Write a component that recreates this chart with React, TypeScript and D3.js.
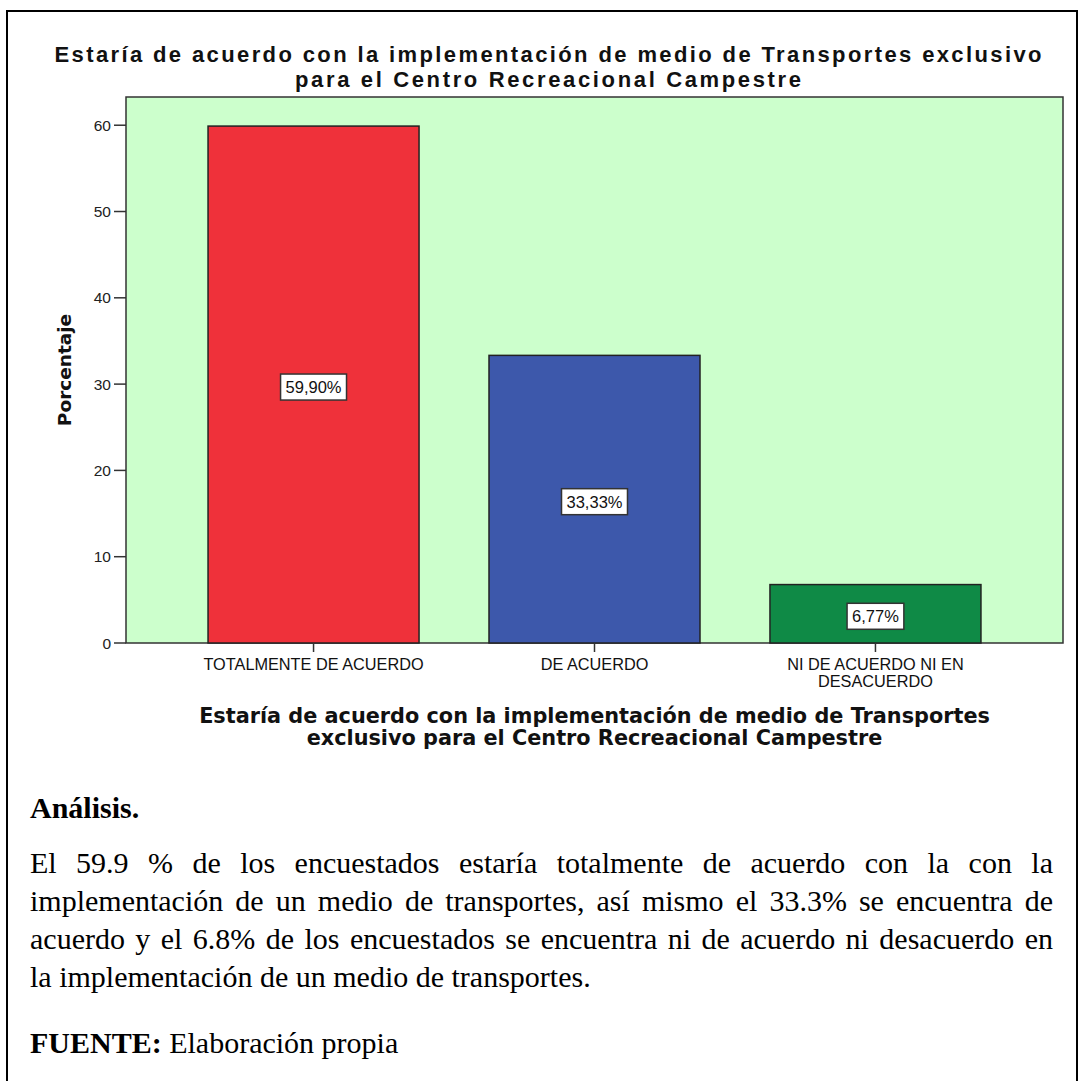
import React, { useEffect, useMemo } from 'react';
import * as d3 from 'd3';

// ---------- data ----------
const categoryLabels: string[][] = [
  ['TOTALMENTE DE ACUERDO'],
  ['DE ACUERDO'],
  ['NI DE ACUERDO NI EN', 'DESACUERDO'],
];
const values: number[] = [59.9, 33.33, 6.77];
const valueLabels: string[] = ['59,90%', '33,33%', '6,77%'];
const barColors: string[] = ['#EF313A', '#3D58AB', '#0F8A46'];
const yTicks: number[] = [0, 10, 20, 30, 40, 50, 60];

const titleLines: string[] = [
  'Estaría de acuerdo con la implementación de medio de Transportes exclusivo',
  'para el Centro Recreacional Campestre',
];
const xTitleLines: string[] = [
  'Estaría de acuerdo con la implementación de medio de Transportes',
  'exclusivo para el Centro Recreacional Campestre',
];
const yTitle = 'Porcentaje';

const analysisHeading = 'Análisis.';
const paragraphLines: string[] = [
  'El 59.9 % de los encuestados estaría totalmente de acuerdo con la con la',
  'implementación de un medio de transportes, así mismo el 33.3% se encuentra de',
  'acuerdo y el 6.8% de los encuestados se encuentra ni de acuerdo ni desacuerdo en',
  'la implementación de un medio de transportes.',
];
const sourceLabel = 'FUENTE:';
const sourceText = ' Elaboración propia';

// ---------- layout ----------
const W = 1080;
const H = 1081;
const plot = { left: 126, right: 1063, top: 97, bottom: 643 };
const yMax = 63.27;

const SANS = "'Liberation Sans', Arial, sans-serif";
const WIDE = "'DejaVu Sans', Verdana, sans-serif";
const SERIF = "'Liberation Serif', 'Times New Roman', serif";

let _ctx: CanvasRenderingContext2D | null = null;
function measure(text: string, font: string): number {
  if (!_ctx) {
    const c = document.createElement('canvas');
    _ctx = c.getContext('2d');
  }
  if (!_ctx) return text.length * 10;
  _ctx.font = font;
  return _ctx.measureText(text).width;
}

export default function App() {
  useEffect(() => {
    document.body.style.margin = '0';
  }, []);

  const x = d3
    .scaleBand<number>()
    .domain(values.map((_, i) => i))
    .range([plot.left, plot.right])
    .paddingInner(0.249)
    .paddingOuter(0.292);
  const y = d3.scaleLinear().domain([0, yMax]).range([plot.bottom, plot.top]);

  const textX0 = 30;
  const textX1 = 1053;
  const paraSize = 30;
  const paraFont = `${paraSize}px 'Liberation Serif'`;
  const paraBaselines = [873, 911, 949, 987];

  const justified = useMemo(() => {
    return paragraphLines.map((line, li) => {
      const words = line.split(' ');
      const widths = words.map((w) => measure(w, paraFont));
      const last = li === paragraphLines.length - 1;
      const spaceW = measure(' ', paraFont);
      const total = widths.reduce((a, b) => a + b, 0);
      const gap = last ? spaceW : (textX1 - textX0 - total) / (words.length - 1);
      const xs: number[] = [];
      let cx = textX0;
      widths.forEach((w) => {
        xs.push(cx);
        cx += w + gap;
      });
      return words.map((w, i) => ({ w, x: xs[i] }));
    });
  }, []);

  const labelFont = `16.5px 'Liberation Sans'`;

  return (
    <svg width={W} height={H} viewBox={`0 0 ${W} ${H}`} style={{ display: 'block', background: '#fff' }}>
      {/* outer frame */}
      <rect x={7} y={11} width={1070} height={1090} fill="none" stroke="#000" strokeWidth={2} />

      {/* chart title */}
      <g fontFamily={SANS} fontWeight="bold" fontSize={22} fill="#111" textAnchor="middle">
        <text x={548} y={62} textLength={987} lengthAdjust="spacing">{titleLines[0]}</text>
        <text x={548} y={87} textLength={506} lengthAdjust="spacing">{titleLines[1]}</text>
      </g>

      {/* plot background */}
      <rect
        x={plot.left}
        y={plot.top}
        width={plot.right - plot.left}
        height={plot.bottom - plot.top}
        fill="#CCFFCC"
        stroke="#333"
        strokeWidth={1.5}
      />

      {/* bars */}
      {values.map((v, i) => (
        <rect
          key={i}
          x={x(i)!}
          y={y(v)}
          width={x.bandwidth()}
          height={y(0) - y(v)}
          fill={barColors[i]}
          stroke="#222"
          strokeWidth={1.5}
        />
      ))}

      {/* value labels */}
      {values.map((v, i) => {
        const cx = x(i)! + x.bandwidth() / 2;
        const cy = (y(v) + y(0)) / 2 + 2.5;
        const tw = measure(valueLabels[i], labelFont);
        const bw = tw + 10;
        const bh = 26;
        return (
          <g key={i}>
            <rect x={cx - bw / 2} y={cy - bh / 2} width={bw} height={bh} fill="#fff" stroke="#333" strokeWidth={1.5} />
            <text x={cx} y={cy + 6} textAnchor="middle" fontFamily={SANS} fontSize={16.5} fill="#111">
              {valueLabels[i]}
            </text>
          </g>
        );
      })}

      {/* y axis ticks */}
      <g fontFamily={SANS} fontSize={15.5} fill="#222">
        {yTicks.map((t) => (
          <g key={t}>
            <line x1={plot.left - 12} x2={plot.left} y1={y(t)} y2={y(t)} stroke="#333" strokeWidth={1.5} />
            <text x={plot.left - 15} y={y(t) + 5.5} textAnchor="end">
              {t}
            </text>
          </g>
        ))}
      </g>

      {/* x axis ticks and labels */}
      <g fontFamily={SANS} fontSize={16.3} fill="#111" textAnchor="middle">
        {categoryLabels.map((lines, i) => {
          const cx = x(i)! + x.bandwidth() / 2;
          return (
            <g key={i}>
              <line x1={cx} x2={cx} y1={plot.bottom} y2={plot.bottom + 9} stroke="#333" strokeWidth={1.5} />
              {lines.map((ln, j) => (
                <text key={j} x={cx} y={670 + j * 16.5}>
                  {ln}
                </text>
              ))}
            </g>
          );
        })}
      </g>

      {/* y axis title */}
      <text
        transform={`translate(71,${(plot.top + plot.bottom) / 2}) rotate(-90)`}
        textAnchor="middle"
        fontFamily={WIDE}
        fontWeight="bold"
        fontSize={18.5}
        fill="#111"
      >
        {yTitle}
      </text>

      {/* x axis title */}
      <g fontFamily={WIDE} fontWeight="bold" fontSize={20.8} fill="#111" textAnchor="middle">
        {xTitleLines.map((ln, j) => (
          <text key={j} x={(plot.left + plot.right) / 2} y={723 + j * 22}>
            {ln}
          </text>
        ))}
      </g>

      {/* analysis text */}
      <text x={textX0} y={818} fontFamily={SERIF} fontWeight="bold" fontSize={paraSize} fill="#000">
        {analysisHeading}
      </text>
      <g fontFamily={SERIF} fontSize={paraSize} fill="#000">
        {justified.map((words, li) => (
          <text key={li} y={paraBaselines[li]}>
            {words.map((wd, wi) => (
              <tspan key={wi} x={wd.x}>
                {wd.w}
              </tspan>
            ))}
          </text>
        ))}
      </g>
      <text x={textX0} y={1053} fontFamily={SERIF} fontSize={paraSize} fill="#000">
        <tspan fontWeight="bold">{sourceLabel}</tspan>
        <tspan>{sourceText}</tspan>
      </text>
    </svg>
  );
}
